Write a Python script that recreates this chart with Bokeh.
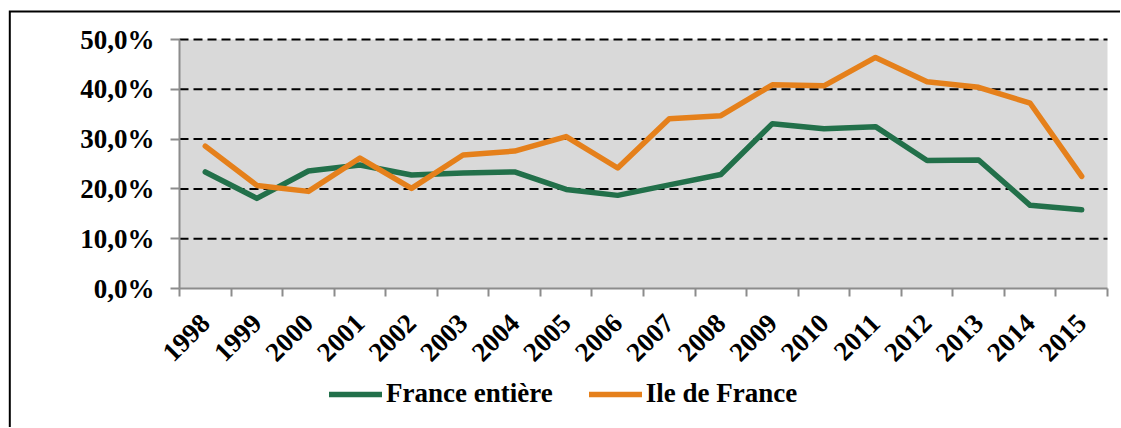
import math
from bokeh.plotting import figure
from bokeh.models import (ColumnDataSource, FixedTicker, Legend, LegendItem,
                          Range1d, CustomJSTickFormatter, BoxAnnotation)
from bokeh.embed import file_html
from bokeh.resources import INLINE

try:
    from bokeh.models import GlobalInlineStyleSheet
except Exception:  # pragma: no cover
    GlobalInlineStyleSheet = None

years = ["1998", "1999", "2000", "2001", "2002", "2003", "2004", "2005", "2006",
         "2007", "2008", "2009", "2010", "2011", "2012", "2013", "2014", "2015"]
france_entiere = [23.4, 18.1, 23.6, 24.8, 22.8, 23.2, 23.4, 19.9, 18.7,
                  20.8, 22.9, 33.1, 32.1, 32.5, 25.7, 25.8, 16.7, 15.8]
ile_de_france = [28.6, 20.7, 19.5, 26.2, 20.1, 26.8, 27.6, 30.5, 24.2,
                 34.1, 34.7, 40.9, 40.7, 46.4, 41.5, 40.4, 37.2, 22.5]
y_ticks = [0, 10, 20, 30, 40, 50]
y_labels = ["0,0%", "10,0%", "20,0%", "30,0%", "40,0%", "50,0%"]
series_names = ["France entière", "Ile de France"]

GREEN = "#22704A"
ORANGE = "#E5801B"
GRAY = "#8C8C8C"
FONT = "Liberation Serif"

n = len(years)
y_top = y_ticks[-1]

# page geometry in pixels (the frame covers the whole canvas)
W, H = 1120, 427
AREA_L, AREA_R = 179, 1107      # plot-area left / right
AREA_T, AREA_B = 39, 288        # plot-area top (50 %) / bottom (0 %)
BORDER_X, BORDER_Y = 9.3, 11    # chart border (left / top)

ux = n / (AREA_R - AREA_L)          # data units per pixel, x
uy = y_top / (AREA_B - AREA_T)      # data units per pixel, y
x_min, x_max = -AREA_L * ux, n + (W - AREA_R) * ux
y_min, y_max = -(H - AREA_B) * uy, y_top + AREA_T * uy
bx = x_min + BORDER_X * ux
by = y_max - BORDER_Y * uy

centers = [i + 0.5 for i in range(n)]
src = ColumnDataSource(dict(x=centers, fr=france_entiere, idf=ile_de_france))
grid_src = ColumnDataSource(dict(y=y_ticks[1:]))

p = figure(width=W, height=H, x_range=Range1d(x_min, x_max),
           y_range=Range1d(y_min, y_max),
           output_backend="svg", toolbar_location=None,
           min_border_left=0, min_border_right=0, min_border_top=0,
           min_border_bottom=0)
if GlobalInlineStyleSheet is not None:
    p.stylesheets = [GlobalInlineStyleSheet(css="html, body { overflow: hidden; }")]

p.background_fill_color = "white"
p.border_fill_color = "white"
p.outline_line_color = None
p.xgrid.visible = False
p.ygrid.visible = False

# chart border (left and top edges; the rest runs off the picture)
p.line(x=[x_max, bx, bx], y=[by, by, y_min], line_color="black", line_width=2,
       line_join="miter")

# grey plot area from 0 % to 50 %
p.add_layout(BoxAnnotation(left=0, right=n, bottom=y_ticks[0], top=y_top,
                           fill_color="#D9D9D9", fill_alpha=1, line_color=None,
                           level="image"))

# dashed horizontal grid lines across the plot area
p.segment(x0=0, x1=n, y0="y", y1="y", source=grid_src, line_color="black",
          line_width=2, line_dash="9 5")

r1 = p.line("x", "fr", source=src, line_color=GREEN, line_width=5.5,
            line_join="round", line_cap="round")
r2 = p.line("x", "idf", source=src, line_color=ORANGE, line_width=5.5,
            line_join="round", line_cap="round")

# x axis, fixed at 0 %
xa = p.xaxis[0]
xa.fixed_location = 0
xa.bounds = (0, n)
xa.ticker = FixedTicker(ticks=centers, minor_ticks=list(range(n + 1)))
xa.formatter = CustomJSTickFormatter(args=dict(labels=years),
                                     code="return labels[Math.floor(tick)];")
xa.major_tick_line_color = None
xa.major_tick_in = 0
xa.major_tick_out = 0
xa.minor_tick_in = 0
xa.minor_tick_out = 8
xa.minor_tick_line_color = GRAY
xa.minor_tick_line_width = 2
xa.axis_line_color = GRAY
xa.axis_line_width = 2
xa.major_label_orientation = math.pi / 4
xa.major_label_standoff = 22
xa.major_label_text_font = FONT
xa.major_label_text_font_style = "bold"
xa.major_label_text_font_size = "27px"
xa.major_label_text_color = "black"

# y axis, fixed at the left edge of the plot area
ya = p.yaxis[0]
ya.fixed_location = 0
ya.bounds = (y_ticks[0], y_top)
ya.ticker = FixedTicker(ticks=y_ticks)
ya.major_label_overrides = {t: l for t, l in zip(y_ticks, y_labels)}
ya.major_tick_in = 0
ya.major_tick_out = 9
ya.major_tick_line_color = GRAY
ya.major_tick_line_width = 2
ya.minor_tick_line_color = None
ya.axis_line_color = GRAY
ya.axis_line_width = 2
ya.major_label_standoff = 16
ya.major_label_text_font = FONT
ya.major_label_text_font_style = "bold"
ya.major_label_text_font_size = "27px"
ya.major_label_text_color = "black"

legend = Legend(items=[LegendItem(label=series_names[0], renderers=[r1]),
                       LegendItem(label=series_names[1], renderers=[r2])],
                orientation="horizontal", location=(329, 18),
                padding=0, margin=0, spacing=36, label_standoff=4,
                glyph_width=53, glyph_height=20, label_height=28,
                border_line_color=None, background_fill_alpha=0,
                label_text_font=FONT, label_text_font_style="bold",
                label_text_font_size="27px", label_text_color="black")
p.add_layout(legend)

open("out.html", "w").write(file_html(p, INLINE))
